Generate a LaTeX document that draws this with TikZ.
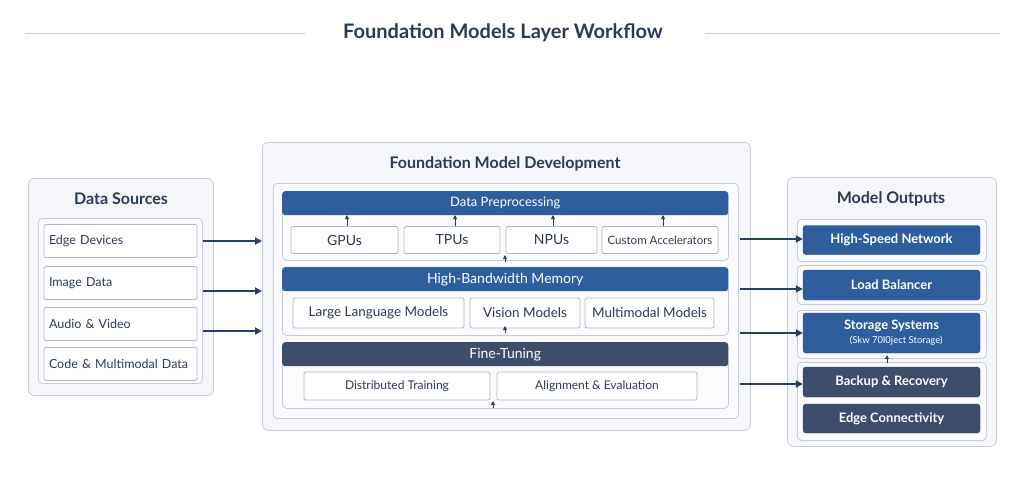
\documentclass[tikz,border=0pt]{standalone}
\usepackage{fontspec}
\setmainfont{Lato}
\usetikzlibrary{arrows.meta}
\definecolor{ink}{HTML}{2B3A55}
\definecolor{bord}{HTML}{C5CCD8}
\definecolor{panel}{HTML}{F4F6FA}
\definecolor{blu}{HTML}{2F5E9E}
\definecolor{slate}{HTML}{3E4D6C}
\definecolor{arr}{HTML}{2A3F66}
\tikzset{
 x=1pt,y=-1pt,
 panelbox/.style={draw=bord,fill=panel,rounded corners=6pt,line width=0.8pt},
 innerbox/.style={draw=bord,fill=white!60!panel,rounded corners=4pt,line width=0.8pt},
 item/.style={draw=bord!90!black,fill=white,rounded corners=2pt,line width=0.8pt,font=\fontsize{12.5}{14}\selectfont,text=ink},
 hdr/.style={fill=#1,rounded corners=3pt,text=white,font=\fontsize{13}{15}\selectfont},
 outbtn/.style={fill=#1,rounded corners=3pt,text=white,font=\bfseries\fontsize{13}{15}\selectfont,draw=#1!70!black},
 ttl/.style={text=ink,font=\bfseries\fontsize{16}{19}\selectfont},
 bigarr/.style={-{Triangle[length=7pt,width=7pt]},line width=1.8pt,draw=arr},
 smarr/.style={-{Triangle[length=4pt,width=4pt]},line width=0.9pt,draw=arr},
}
\begin{document}
\begin{tikzpicture}
\useasboundingbox[fill=white] (0,0) rectangle (1024,477);
% title
\node[text=ink,font=\bfseries\fontsize{20}{23}\selectfont] (title) at (503,33) {Foundation Models Layer Workflow};
\coordinate (tl1) at (25,33); \coordinate (tl2) at (305,33);
\coordinate (tr1) at (705,33); \coordinate (tr2) at (1000,33);
\draw[bord,line width=0.8pt] (tl1)--(tl2) (tr1)--(tr2);
% left panel
\node[panelbox,minimum width=185,minimum height=217,anchor=north west] (ds) at (28,178) {};
\node[ttl] (dst) at (121,199) {Data Sources};
\node[innerbox,minimum width=164,minimum height=165,anchor=north west] (dsi) at (38,218) {};
\foreach \n/\t/\y in {e/Edge Devices/241,i/Image Data/283,a/Audio \& Video/324,c/Code \& Multimodal Data/364}
 \node[item,minimum width=153,minimum height=33,text width=143,align=left] (s\n) at (120.5,\y) {\t};
% middle panel
\node[panelbox,minimum width=488,minimum height=288,anchor=north west] (fm) at (262,142) {};
\node[ttl] (fmt) at (505,164) {Foundation Model Development};
\node[innerbox,minimum width=465,minimum height=235,anchor=north west] (fmi) at (273,183) {};
% sections
\node[innerbox,minimum width=446,minimum height=69,anchor=north west] (sec1) at (282,191) {};
\node[hdr=blu,minimum width=446,minimum height=24,anchor=north west] (h1) at (282,191) {Data Preprocessing};
\node[innerbox,minimum width=446,minimum height=68,anchor=north west] (sec2) at (282,267) {};
\node[hdr=blu,minimum width=446,minimum height=24,anchor=north west,font=\fontsize{14}{16}\selectfont] (h2) at (282,267) {High-Bandwidth Memory};
\node[innerbox,minimum width=446,minimum height=66,anchor=north west] (sec3) at (282,342) {};
\node[hdr=slate,minimum width=446,minimum height=24,anchor=north west,font=\fontsize{14}{16}\selectfont] (h3) at (282,342) {Fine-Tuning};
% items
\node[item,minimum width=107,minimum height=27,font=\fontsize{14}{16}\selectfont] (gpu) at (344.5,240) {GPUs};
\node[item,minimum width=96,minimum height=27,font=\fontsize{14}{16}\selectfont] (tpu) at (452,240) {TPUs};
\node[item,minimum width=91,minimum height=27,font=\fontsize{14}{16}\selectfont] (npu) at (551.5,240) {NPUs};
\node[item,minimum width=116,minimum height=27,font=\fontsize{11.5}{13}\selectfont] (cus) at (660,240) {Custom Accelerators};
\node[item,minimum width=171,minimum height=30,font=\fontsize{13.5}{15}\selectfont] (llm) at (378.5,313) {Large Language Models};
\node[item,minimum width=110,minimum height=30,font=\fontsize{13.5}{15}\selectfont] (vis) at (525,313) {Vision Models};
\node[item,minimum width=129,minimum height=30,font=\fontsize{13.5}{15}\selectfont] (mm) at (649.5,313) {Multimodal Models};
\node[item,minimum width=186,minimum height=28,font=\fontsize{12}{14}\selectfont] (dt) at (397,386) {Distributed Training};
\node[item,minimum width=200,minimum height=28,font=\fontsize{12}{14}\selectfont] (al) at (597,386) {Alignment \& Evaluation};
% small arrows
\foreach \n/\x in {gpu/347,tpu/455,npu/553,cus/663}
 \draw[smarr] (\x,226) -- (\x,215);
\coordinate (c1) at (505,262); \coordinate (c2) at (505,333);
\coordinate (c3) at (493,408);
\draw[smarr] (c1) -- ++(0,-7);
\draw[smarr] (c2) -- ++(0,-7);
\draw[smarr] (c3) -- ++(0,-7);
% right panel
\node[panelbox,minimum width=209,minimum height=269,anchor=north west] (mo) at (787,177) {};
\node[ttl] (mot) at (891,199) {Model Outputs};
\node[innerbox,minimum width=189,minimum height=42,anchor=north west] (g1) at (797,219) {};
\node[innerbox,minimum width=189,minimum height=39,anchor=north west] (g2) at (797,265) {};
\node[innerbox,minimum width=189,minimum height=48,anchor=north west] (g3) at (797,310) {};
\node[innerbox,minimum width=189,minimum height=78,anchor=north west] (g4) at (797,362) {};
\node[outbtn=blu,minimum width=177,minimum height=29] (hsn) at (891.5,240) {High-Speed Network};
\node[outbtn=blu,minimum width=177,minimum height=30] (lb) at (891.5,285) {Load Balancer};
\node[outbtn=blu,minimum width=177,minimum height=40,align=center] (st) at (891.5,333) {Storage Systems\\[-1pt]{\normalfont\fontsize{9.5}{10}\selectfont\quad(Skw 70l0ject Storage)}};
\node[outbtn=slate,minimum width=177,minimum height=30] (br) at (891.5,382) {Backup \& Recovery};
\node[outbtn=slate,minimum width=177,minimum height=29] (ec) at (891.5,418.5) {Edge Connectivity};
\coordinate (c4) at (887,363);
\draw[smarr] (c4) -- ++(0,-8);
% big arrows
\coordinate (l1) at (203,241); \coordinate (l2) at (203,291); \coordinate (l3) at (203,331);
\draw[bigarr] (l1) -- (fm.west |- l1);
\draw[bigarr] (l2) -- (fm.west |- l2);
\draw[bigarr] (l3) -- (fm.west |- l3);
\foreach \t/\y in {hsn/239,lb/289,st/333,br/384}
 \draw[bigarr] (740,\y) -- (\t.west |- 0,\y);
\end{tikzpicture}
\end{document}
